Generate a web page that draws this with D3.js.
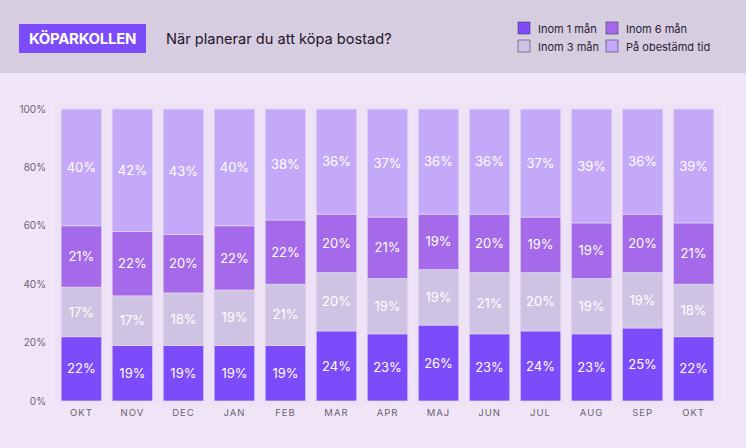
<!DOCTYPE html>
<html>
<head>
<meta charset="utf-8">
<script src="https://cdn.jsdelivr.net/npm/d3@7"></script>
<style>
  html, body { margin: 0; padding: 0; background: #f0e5f7; }
  svg { display: block; font-family: Inter, "Noto Sans", sans-serif; }
</style>
</head>
<body>
<svg id="chart"></svg>
<script>
// chart data
const months = ['OKT', 'NOV', 'DEC', 'JAN', 'FEB', 'MAR', 'APR', 'MAJ', 'JUN', 'JUL', 'AUG', 'SEP', 'OKT'];
const seriesNames = ['Inom 1 mån', 'Inom 3 mån', 'Inom 6 mån', 'På obestämd tid'];
const inom1 = [22, 19, 19, 19, 19, 24, 23, 26, 23, 24, 23, 25, 22];
const inom3 = [17, 17, 18, 19, 21, 20, 19, 19, 21, 20, 19, 19, 18];
const inom6 = [21, 22, 20, 22, 22, 20, 21, 19, 20, 19, 19, 20, 21];
const obestamd = [40, 42, 43, 40, 38, 36, 37, 36, 36, 37, 39, 36, 39];
const yTicks = [0, 20, 40, 60, 80, 100];

const colors = ['#7c4bfa', '#cec3e2', '#a46ae9', '#c4a9f9'];

const width = 746, height = 448;
const svg = d3.select('#chart').attr('width', width).attr('height', height);

// header band
svg.append('rect').attr('width', width).attr('height', 73).attr('fill', '#d6cde0');
svg.append('rect').attr('x', 19).attr('y', 24).attr('width', 127).attr('height', 29).attr('fill', '#7c4bfa');
svg.append('text').attr('x', 82.5).attr('y', 44).attr('text-anchor', 'middle')
  .attr('fill', '#fff').attr('font-size', 15).attr('font-weight', 700).attr('letter-spacing', -0.3)
  .text('KÖPARKOLLEN');
svg.append('text').attr('x', 166).attr('y', 44).attr('fill', '#1d1528')
  .attr('font-size', 14.6).text('När planerar du att köpa bostad?');

// legend (2 x 2)
const legendPos = [[518, 22], [518, 40], [606, 22], [606, 40]];
seriesNames.forEach((name, s) => {
  const [lx, ly] = legendPos[s];
  svg.append('rect').attr('x', lx).attr('y', ly).attr('width', 12).attr('height', 12)
    .attr('fill', colors[s]).attr('stroke', '#4a3b66').attr('stroke-width', 0.6);
  svg.append('text').attr('x', lx + 20).attr('y', ly + 10.5).attr('fill', '#2a2238')
    .attr('font-size', 11).text(name);
});

// plot
const margin = { top: 109, bottom: 47, left: 55, right: 26 };
const rows = months.map((m, i) => ({ i: i, m: m, v: [inom1[i], inom3[i], inom6[i], obestamd[i]] }));

const x = d3.scaleBand().domain(d3.range(months.length))
  .range([margin.left, width - margin.right]).paddingInner(0.205).paddingOuter(0.12);
const y = d3.scaleLinear().domain([0, 100]).range([height - margin.bottom, margin.top]);

svg.append('rect').attr('x', 55).attr('y', 104).attr('width', 666).attr('height', 302)
  .attr('fill', '#eee2f6');

const stack = d3.stack().keys([0, 1, 2, 3]).value((d, k) => d.v[k]);
const layers = stack(rows);

const g = svg.append('g');
layers.forEach((layer, k) => {
  g.selectAll(null).data(layer).enter().append('rect')
    .attr('x', d => x(d.data.i))
    .attr('width', x.bandwidth())
    .attr('y', d => y(d[1]))
    .attr('height', d => y(d[0]) - y(d[1]))
    .attr('fill', colors[k])
    .attr('stroke', '#e4d8f0').attr('stroke-width', 0.7);
  g.selectAll(null).data(layer).enter().append('text')
    .attr('x', d => x(d.data.i) + x.bandwidth() / 2)
    .attr('y', d => (y(d[0]) + y(d[1])) / 2 + 4.6)
    .attr('text-anchor', 'middle').attr('fill', '#fff')
    .attr('font-size', 13)
    .text(d => d.data.v[k] + '%');
});

// y axis labels
svg.append('g').selectAll('text').data(yTicks).enter().append('text')
  .attr('x', 46).attr('y', d => y(d) + 3.5).attr('text-anchor', 'end')
  .attr('fill', '#6a6272').attr('font-size', 10).text(d => d + '%');

// x axis labels
svg.append('g').selectAll('text').data(rows).enter().append('text')
  .attr('x', d => x(d.i) + x.bandwidth() / 2).attr('y', 416)
  .attr('text-anchor', 'middle').attr('fill', '#6a6272')
  .attr('font-size', 9.5).attr('letter-spacing', 1)
  .text(d => d.m);
</script>
</body>
</html>
